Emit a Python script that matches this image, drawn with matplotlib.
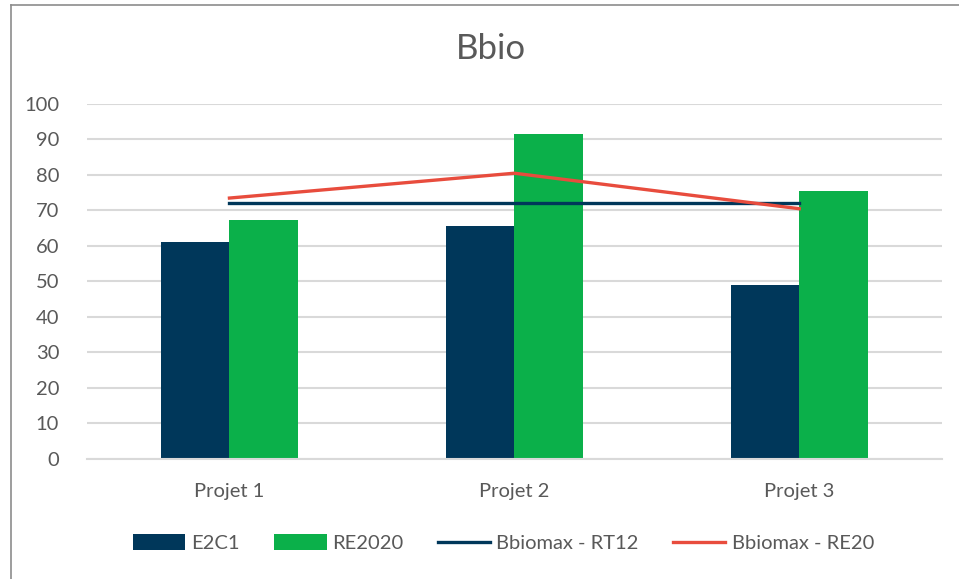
import matplotlib
matplotlib.use("Agg")
import matplotlib.pyplot as plt
import numpy as np
from matplotlib.lines import Line2D

projets = ["Projet 1", "Projet 2", "Projet 3"]
e2c1 = [61, 65.5, 49]
re2020 = [67.2, 91.5, 75.5]
bbiomax_rt12 = [72, 72, 72]
bbiomax_re20 = [73.5, 80.5, 70.5]

navy = "#00375A"
green = "#0BB04A"
red = "#E84C3D"
grey = "#595959"

plt.rcParams["font.family"] = ["Lato", "DejaVu Sans"]

fig = plt.figure(figsize=(9.59, 5.79), dpi=100)
ax = fig.add_axes([0.0907, 0.2073, 0.8913, 0.6131])

x = np.arange(len(projets))
w = 0.24
b1 = ax.bar(x - w / 2, e2c1, w, color=navy, label="E2C1", zorder=2)
b2 = ax.bar(x + w / 2, re2020, w, color=green, label="RE2020", zorder=2)
l1, = ax.plot(x, bbiomax_rt12, color=navy, lw=2.4, label="Bbiomax - RT12", zorder=3)
l2, = ax.plot(x, bbiomax_re20, color=red, lw=2.4, label="Bbiomax - RE20", zorder=4)

ax.set_xlim(-0.5, 2.5)
ax.set_ylim(0, 100)
ax.set_yticks(range(0, 101, 10))
ax.set_xticks(x)
ax.set_xticklabels(projets)
ax.yaxis.grid(True, color="#D9D9D9", lw=1.5, zorder=0)
ax.set_axisbelow(True)
for s in ["top", "right", "left"]:
    ax.spines[s].set_visible(False)
ax.spines["bottom"].set_color("#D9D9D9")
ax.spines["bottom"].set_linewidth(1.5)
ax.tick_params(axis="both", length=0, labelsize=14.5, labelcolor=grey)
ax.tick_params(axis="y", pad=20)
ax.tick_params(axis="x", pad=17)

fig.text(0.512, 0.915, "Bbio", ha="center", va="center", fontsize=25, color=grey)

leg = fig.legend([b1, b2, l1, l2], [h.get_label() for h in (b1, b2, l1, l2)],
                 loc="center", bbox_to_anchor=(0.525, 0.062), ncol=4, frameon=False,
                 fontsize=14.5, handlelength=2.6, handleheight=0.8, columnspacing=1.7,
                 handletextpad=0.3)
for t in leg.get_texts():
    t.set_color(grey)

# frame of the chart area
fig.add_artist(Line2D([11 / 959, 11 / 959], [0, 1 - 4.5 / 579], color="#8C8C8C", lw=1.2))
fig.add_artist(Line2D([11 / 959, 1], [1 - 4.5 / 579, 1 - 4.5 / 579], color="#8C8C8C", lw=1.2))

fig.savefig("out.png", dpi=100)
